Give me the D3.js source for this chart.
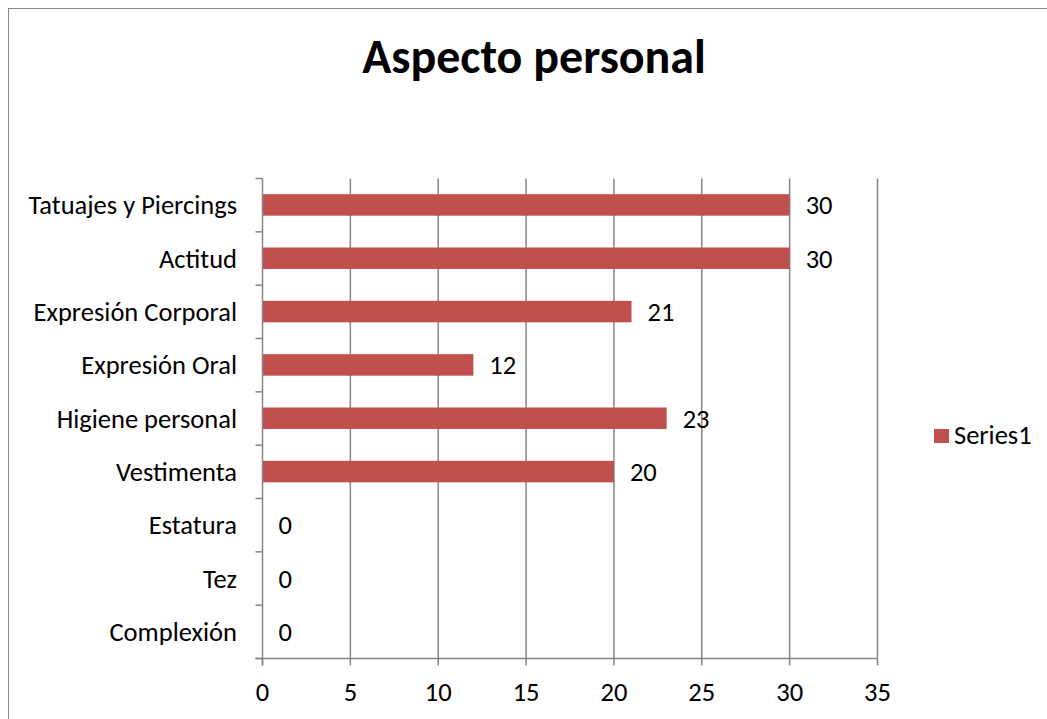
<!DOCTYPE html>
<html><head><meta charset="utf-8">
<script src="https://cdn.jsdelivr.net/npm/d3@7"></script>
<style>body{margin:0;background:#fff}svg{display:block}text{font-family:Carlito,Lato,"Open Sans",sans-serif;fill:#000}</style>
</head><body><svg id="c" width="1047" height="719"></svg>
<script>
const categories = ["Tatuajes y Piercings","Actitud","Expresión Corporal","Expresión Oral","Higiene personal","Vestimenta","Estatura","Tez","Complexión"];
const values = [30,30,21,12,23,20,0,0,0];
const xTicks = [0,5,10,15,20,25,30,35];
const seriesName = "Series1";
const title = "Aspecto personal";

const svg = d3.select("#c");
svg.append("rect").attr("x",8.5).attr("y",8.5).attr("width",1100).attr("height",800)
  .attr("fill","#fff").attr("stroke","#868686").attr("stroke-width",1);

const L=262.5, R=877.5, T=178.5, B=658.5;
const FS = "26.5px";
const x = d3.scaleLinear().domain([0,35]).range([L,R]);
const yb = d3.scaleBand().domain(categories).range([T,B]);

svg.append("text").attr("x",534).attr("y",73).attr("text-anchor","middle")
  .style("font-size","48px").style("font-weight","bold").text(title);

// gridlines
svg.append("g").selectAll("line").data(xTicks.slice(1)).join("line")
  .attr("x1",d=>x(d)).attr("x2",d=>x(d)).attr("y1",T).attr("y2",B)
  .attr("stroke","#868686").attr("stroke-width",1.5);

// bars
svg.append("g").selectAll("rect").data(values).join("rect")
  .attr("x",x(0)).attr("y",(d,i)=>yb(categories[i])+yb.bandwidth()/2-11)
  .attr("width",d=>x(d)-x(0)).attr("height",21.5).attr("fill","#C0504D");

// value labels
svg.append("g").selectAll("text").data(values).join("text")
  .attr("x",d=>x(d)+16).attr("y",(d,i)=>yb(categories[i])+yb.bandwidth()/2+9)
  .style("font-size",FS).text(d=>d);

// y axis
const ya = svg.append("g");
ya.append("line").attr("x1",L).attr("x2",L).attr("y1",T).attr("y2",B+7).attr("stroke","#868686").attr("stroke-width",1.5);
const yt = d3.range(categories.length+1).map(i=>T+i*yb.step());
ya.selectAll("line.t").data(yt).join("line").attr("class","t")
  .attr("x1",L-7).attr("x2",L).attr("y1",d=>d).attr("y2",d=>d).attr("stroke","#868686").attr("stroke-width",1.5);
ya.selectAll("text").data(categories).join("text")
  .attr("x",237).attr("y",d=>yb(d)+yb.bandwidth()/2+9).attr("text-anchor","end")
  .style("font-size",FS).text(d=>d);

// x axis
const xa = svg.append("g");
xa.append("line").attr("x1",L-7).attr("x2",R).attr("y1",B).attr("y2",B).attr("stroke","#868686").attr("stroke-width",1.5);
xa.selectAll("line.t").data(xTicks).join("line").attr("class","t")
  .attr("x1",d=>x(d)).attr("x2",d=>x(d)).attr("y1",B).attr("y2",B+7).attr("stroke","#868686").attr("stroke-width",1.5);
xa.selectAll("text").data(xTicks).join("text")
  .attr("x",d=>x(d)).attr("y",701).attr("text-anchor","middle")
  .style("font-size",FS).text(d=>d);

// legend
svg.append("rect").attr("x",934).attr("y",429).attr("width",15).attr("height",14).attr("fill","#C0504D");
svg.append("text").attr("x",954).attr("y",444).style("font-size",FS).text(seriesName);
</script></body></html>
